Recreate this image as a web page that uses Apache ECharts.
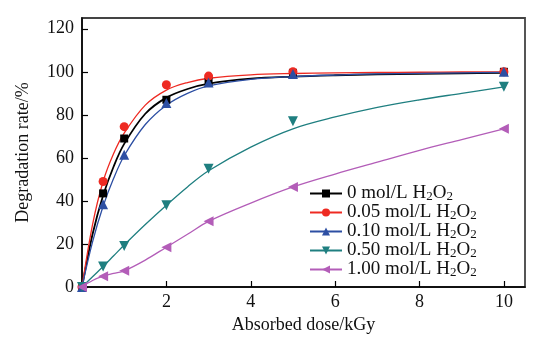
<!DOCTYPE html>
<html><head><meta charset="utf-8">
<script src="https://cdn.jsdelivr.net/npm/echarts@6/dist/echarts.min.js"></script>
<style>html,body{margin:0;padding:0;background:#fff}#c{width:551px;height:340px}</style>
</head><body><div id="c"></div>
<script>
// Measured points
const xDose = [0, 0.5, 1, 2, 3, 5, 10];
const h0   = [0, 43.5, 69, 87, 95.5, 99.5, 100];
const h005 = [0, 49, 74.5, 94, 98, 100, 100];
const h010 = [0, 38.5, 61.5, 85.5, 95, 99, 100];
const h050 = [0, 9.5, 19, 38, 55, 77, 93];
const h100 = [0, 5, 7.5, 18.5, 30.5, 46.5, 73.5];
// Fitted curves
const xFit   = [0, 0.25, 0.5, 0.75, 1, 1.5, 2, 2.5, 3, 4, 5, 6, 7, 8, 9, 10];
const fit0   = [0, 24.5, 42.5, 56, 66.5, 80.5, 88, 92, 94.5, 96.8, 97.8, 98.4, 98.8, 99.1, 99.3, 99.5];
const fit005 = [0, 29, 49, 62, 71.5, 84.5, 91.5, 95, 97, 98.6, 99.2, 99.5, 99.7, 99.8, 99.9, 100];
const fit010 = [0, 21, 37.5, 50.5, 61, 75.5, 84.5, 90, 93.5, 96.5, 97.8, 98.5, 99, 99.3, 99.5, 99.7];
const fit050 = [0, 4.8, 9.5, 14.5, 19.5, 29, 38, 46.5, 54, 65, 73.5, 79, 83.5, 87, 90, 93];
const fit100 = [0, 3, 5, 6.3, 7.5, 12.5, 18.5, 24.5, 30.5, 39, 46.5, 52.5, 58, 63.5, 68.5, 73.5];
const conc = ['0', '0.05', '0.10', '0.50', '1.00'];
const yTicks = [0, 20, 40, 60, 80, 100, 120];
const xTicks = [2, 4, 6, 8, 10];

const FONT = '"Liberation Serif","Times New Roman",serif';
const colors = ['#000000', '#ee2a22', '#2d4fa3', '#1f7f80', '#b35db8'];
const symbols = ['rect', 'circle', 'triangle', 'triangle', 'triangle'];
const rots = [0, 0, 0, 180, 90];
const sizes = [8, 9, 10, 10, 10];
const pts = [h0, h005, h010, h050, h100];
const fits = [fit0, fit005, fit010, fit050, fit100];
const widths = [1.8, 1.3, 1.3, 1.3, 1.3];
const names = conc.map(c => c + ' mol/L H2O2');

const series = [];
names.forEach((n, i) => {
  series.push({
    name: n, type: 'line', smooth: 0.35, showSymbol: false,
    symbol: symbols[i], symbolRotate: rots[i], symbolSize: sizes[i],
    data: xFit.map((x, j) => [x, fits[i][j]]),
    lineStyle: {color: colors[i], width: widths[i]},
    itemStyle: {color: colors[i]}, z: 2, silent: true
  });
});
names.forEach((n, i) => {
  series.push({
    name: n, type: 'scatter',
    symbol: symbols[i], symbolRotate: rots[i], symbolSize: sizes[i],
    data: xDose.map((x, j) => [x, pts[i][j]]),
    itemStyle: {color: colors[i], opacity: 1}, z: 3
  });
});

const chart = echarts.init(document.getElementById('c'), null, {renderer: 'canvas'});
chart.setOption({
  animation: false,
  backgroundColor: '#fff',
  grid: {left: 82, right: 26, top: 18, bottom: 53, show: true, borderColor: '#444', borderWidth: 1.8},
  xAxis: {
    type: 'value', min: 0, max: 10.5, interval: 2,
    name: 'Absorbed dose/kGy', nameLocation: 'middle', nameGap: 27,
    nameTextStyle: {fontFamily: FONT, fontSize: 18, color: '#111'},
    axisLine: {show: true, onZero: false, lineStyle: {color: '#000', width: 1.5}},
    axisTick: {show: true, inside: true, length: 6, lineStyle: {color: '#000', width: 1.2}},
    axisLabel: {fontFamily: FONT, fontSize: 18, color: '#111', margin: 6,
      showMinLabel: false, showMaxLabel: false,
      formatter: v => xTicks.indexOf(v) >= 0 ? String(v) : ''},
    splitLine: {show: false}
  },
  yAxis: {
    type: 'value', min: 0, max: 125, interval: 20,
    name: 'Degradation rate/%', nameLocation: 'middle', nameGap: 50,
    nameTextStyle: {fontFamily: FONT, fontSize: 18, color: '#111'},
    axisLine: {show: true, lineStyle: {color: '#000', width: 1.5}},
    axisTick: {show: true, inside: true, length: 6, lineStyle: {color: '#000', width: 1.2}},
    axisLabel: {fontFamily: FONT, fontSize: 18, color: '#111', margin: 8, showMaxLabel: false,
      formatter: v => yTicks.indexOf(v) >= 0 ? String(v) : ''},
    splitLine: {show: false}
  },
  legend: {
    orient: 'vertical', left: 304, top: 179, itemWidth: 32, itemHeight: 10, itemGap: 0,
    data: names,
    formatter: n => '{n|' + n.split(' H2O2')[0] + ' H}{s|2}{n|O}{s|2}',
    textStyle: {
      fontFamily: FONT, fontSize: 19, color: '#111',
      rich: {
        n: {fontFamily: FONT, fontSize: 19, color: '#111', lineHeight: 19},
        s: {fontFamily: FONT, fontSize: 13, color: '#111', lineHeight: 13, padding: [6, 0, 0, 0]}
      }
    }
  },
  series: series
});
</script></body></html>
